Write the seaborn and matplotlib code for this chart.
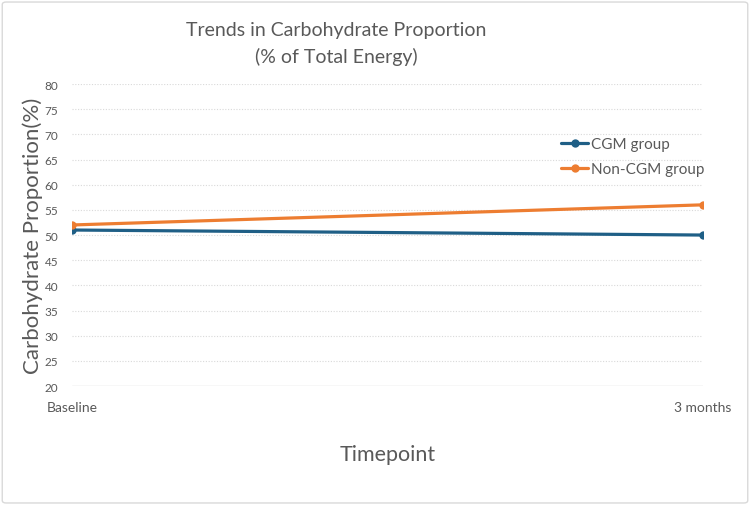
import pandas as pd
import matplotlib.pyplot as plt
import seaborn as sns
from matplotlib.patches import FancyBboxPatch

timepoints = ['Baseline', '3 months']
cgm_values = [51, 50]
non_cgm_values = [52, 56]
groups = ['CGM group', 'Non-CGM group']
y_ticks = list(range(20, 85, 5))

df = pd.DataFrame({
    'Timepoint': timepoints * 2,
    'x': [0, 1] * 2,
    'value': cgm_values + non_cgm_values,
    'group': [groups[0]] * 2 + [groups[1]] * 2,
})

sns.set_style('white')
plt.rcParams['font.family'] = ['Lato', 'DejaVu Sans']
text_color = '#595959'

fig = plt.figure(figsize=(7.5, 5.06), dpi=100)
ax = fig.add_axes([0.096, 0.235, 0.841, 0.597])

palette = {groups[0]: '#1F5F86', groups[1]: '#ED7D31'}
sns.lineplot(data=df, x='x', y='value', hue='group', palette=palette,
             marker='o', markersize=6, markeredgewidth=0, linewidth=2.3,
             ax=ax, zorder=3)

ax.set_xlim(0, 1)
ax.set_ylim(20, 80)
ax.set_yticks(y_ticks)
ax.set_xticks([0, 1])
ax.set_xticklabels(timepoints, fontsize=10, color=text_color)
ax.tick_params(axis='y', labelsize=8.5, colors=text_color, length=0, pad=10)
ax.tick_params(axis='x', length=0, pad=11)
for lbl in ax.get_yticklabels():
    lbl.set_color(text_color)

for y in y_ticks[1:]:
    ax.axhline(y, color='#D9D9D9', linewidth=0.8, linestyle=(0, (1, 1.5)), zorder=0)
ax.axhline(20, color='#D9D9D9', linewidth=1, zorder=1)

for s in ax.spines.values():
    s.set_visible(False)

ax.set_xlabel('Timepoint', fontsize=15.5, color=text_color, labelpad=22)
ax.set_ylabel('Carbohydrate Proportion(%)', fontsize=16, color=text_color, labelpad=1)

leg = ax.legend(loc='upper right', bbox_to_anchor=(1.025, 0.87), frameon=False,
                fontsize=11, handlelength=1.8, labelspacing=0.75, handletextpad=0.2)
for t in leg.get_texts():
    t.set_color(text_color)

fig.text(0.448, 0.956, 'Trends in Carbohydrate Proportion\n(% of Total Energy)',
         ha='center', va='top', fontsize=14, color=text_color, linespacing=1.6)

border = FancyBboxPatch((0.003, 0.004), 0.994, 0.99, boxstyle='round,pad=0,rounding_size=0.005',
                        transform=fig.transFigure, fill=False, edgecolor='#D9D9D9', linewidth=1)
fig.patches.append(border)

fig.savefig('out.png', dpi=100)
